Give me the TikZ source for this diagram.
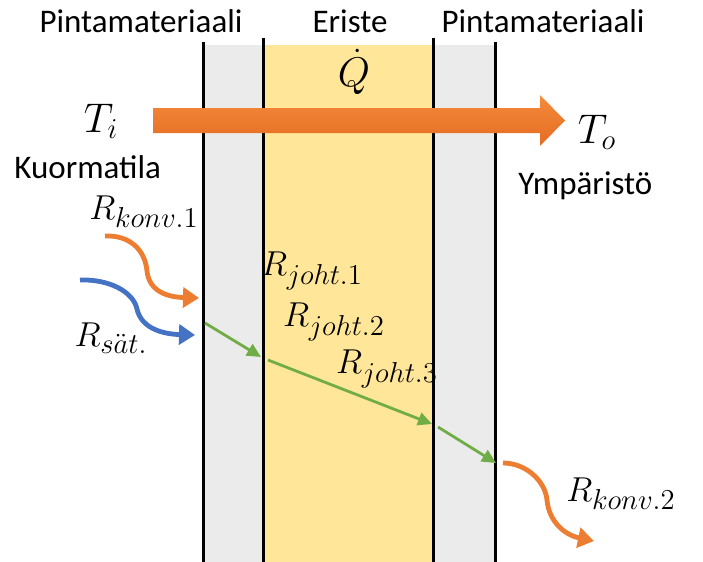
\documentclass[tikz,border=0pt]{standalone}
\usepackage{fontspec}
\setmainfont{Carlito}
\usetikzlibrary{arrows.meta}
\definecolor{layergray}{HTML}{EBEBEB}
\definecolor{layeryellow}{HTML}{FFE699}
\definecolor{heatorange}{HTML}{ED7D31}
\definecolor{heatorangeL}{HTML}{F58B3C}
\definecolor{heatorangeD}{HTML}{E46C22}
\definecolor{radblue}{HTML}{4472C4}
\definecolor{condgreen}{HTML}{70AD47}
\tikzset{
  wall/.style={line width=1.5pt, black},
  lbl/.style={inner sep=0pt, font=\fontsize{16.5}{19}\selectfont},
  mlbl/.style={inner sep=0pt, font=\fontsize{19}{22}\selectfont},
  blbl/.style={inner sep=0pt, font=\fontsize{20.5}{24}\selectfont},
  curvearrow/.style={line width=2.4pt, -{Triangle[length=8pt,width=10pt]}},
  condarrow/.style={condgreen, line width=1.4pt, -{Triangle[length=7pt,width=6.5pt]}}
}
\begin{document}
\begin{tikzpicture}[x=0.5pt,y=-0.5pt]
\useasboundingbox (0,0) rectangle (703,562);
% layers
\fill[layergray] (203,45) rectangle (263,562);
\fill[layeryellow] (263,45) rectangle (433,562);
\fill[layergray] (433,45) rectangle (495,562);
\draw[wall] (203,42) -- (203,562);
\draw[wall] (263,38) -- (263,562);
\draw[wall] (433,38) -- (433,562);
\draw[wall] (495,42) -- (495,562);
% top labels
\node[lbl] (ltop) at (141,21) {Pintamateriaali};
\node[lbl] (etop) at (350,21) {Eriste};
\node[lbl] (rtop) at (543,21) {Pintamateriaali};
\node[blbl] (qdot) at (354,72) {$\dot{Q}$};
% big heat flow arrow
\shade[top color=heatorangeL, bottom color=heatorangeD]
  (153,108) -- (540,108) -- (540,95) -- (565,120.5) -- (540,146) -- (540,133) -- (153,133) -- cycle;
\node[blbl] (ti) at (101,121) {$T_i$};
\node[blbl] (to) at (597,132) {$T_o$};
\node[lbl, anchor=west] (kuorm) at (14,167) {Kuormatila};
\node[lbl, anchor=west] (ymp) at (518,186) {Ympäristö};
% resistance labels
\node[mlbl] (rk1) at (144,212) {$R_{konv.1}$};
\node[mlbl] (rsat) at (111,338) {$R_{s\ddot{a}t.}$};
\node[mlbl] (rj1) at (312,271) {$R_{joht.1}$};
\node[mlbl] (rj2) at (334,322) {$R_{joht.2}$};
\node[mlbl] (rj3) at (387,369) {$R_{joht.3}$};
\node[mlbl] (rk2) at (621,494) {$R_{konv.2}$};
% arrow end coordinates
\coordinate (o1s) at (105,236);
\coordinate (o1m) at (147,271);
\coordinate (o1e) at (199,298);
\coordinate (b1s) at (80,280);
\coordinate (b1m) at (137,309);
\coordinate (b1e) at (195,335);
\coordinate (g1s) at (205,323);
\coordinate (g1e) at (261,357);
\coordinate (g2s) at (268,360);
\coordinate (g2e) at (432,424);
\coordinate (g3s) at (438,427);
\coordinate (g3e) at (496,463);
\coordinate (o2s) at (503,463);
\coordinate (o2m) at (547,500);
\coordinate (o2e) at (594,541);
% curved arrows
\draw[curvearrow, heatorange] (o1s) .. controls (130,235) and (145,250) .. (o1m)
  .. controls (149,290) and (165,297) .. (o1e);
\draw[curvearrow, radblue] (b1s) .. controls (108,279) and (133,291) .. (b1m)
  .. controls (141,327) and (160,334) .. (b1e);
\draw[curvearrow, heatorange] (o2s) .. controls (525,463) and (545,480) .. (o2m)
  .. controls (549,522) and (565,535) .. (o2e);
% conduction arrows
\draw[condarrow] (g1s) -- (g1e);
\draw[condarrow] (g2s) -- (g2e);
\draw[condarrow] (g3s) -- (g3e);
\end{tikzpicture}
\end{document}
